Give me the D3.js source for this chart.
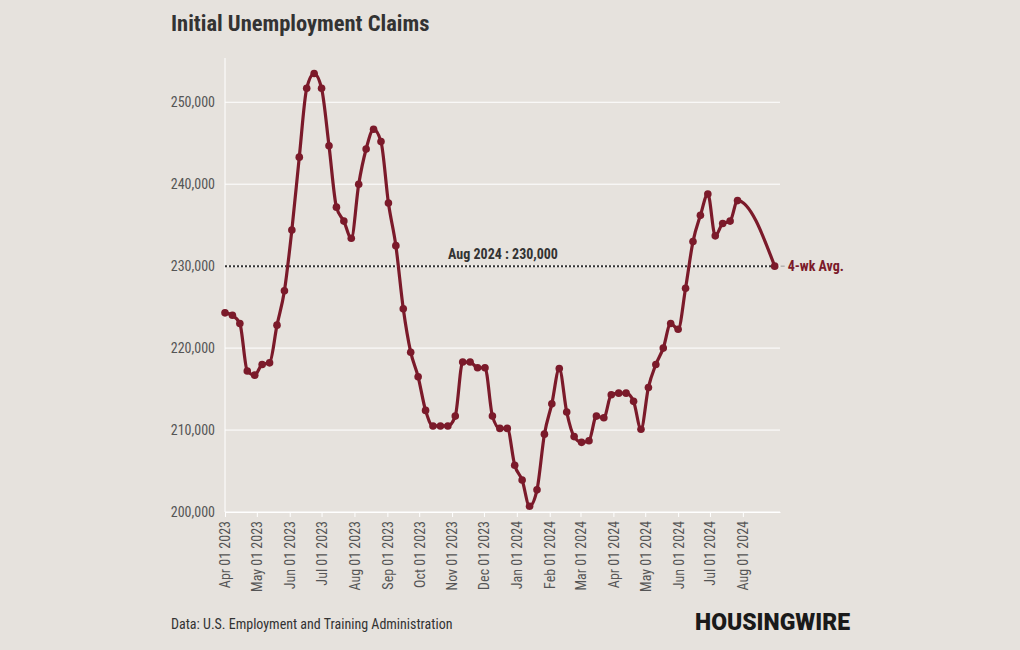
<!DOCTYPE html>
<html>
<head>
<meta charset="utf-8">
<script src="https://cdn.jsdelivr.net/npm/d3@7"></script>
<style>
  html, body { margin: 0; padding: 0; background: #e6e2dd; }
  svg { display: block; }
  text { font-family: "Roboto Condensed", "Liberation Sans Narrow", "Roboto", sans-serif; }
</style>
</head>
<body>
<svg id="chart" width="1020" height="650"></svg>
<script>
// ---- data ----
const startDate = "2023-04-01"; // first weekly observation (Saturday)
const claims = [
  224300, 224000, 223000, 217200, 216700, 218000, 218200, 222800, 227000, 234400,
  243300, 251700, 253500, 251700, 244700, 237200, 235500, 233400, 240000, 244300,
  246700, 245200, 237700, 232500, 224800, 219500, 216500, 212400, 210500, 210500,
  210500, 211700, 218300, 218300, 217600, 217600, 211700, 210200, 210200, 205700,
  203900, 200700, 202700, 209500, 213200, 217500, 212200, 209200, 208500, 208700,
  211700, 211500, 214300, 214500, 214500, 213500, 210100, 215200, 218000, 220000,
  223000, 222300, 227300, 233000, 236200, 238800, 233700, 235200, 235500, 238000
];
const lastDate = "2024-08-31";
const lastValue = 230000;
const yTicks = [200000, 210000, 220000, 230000, 240000, 250000];
const xTickStart = "2023-04-01";
const xTickEnd = "2024-08-01";
const annotationText = "Aug 2024 : 230,000";
const avgLabel = "4-wk Avg.";
const titleText = "Initial Unemployment Claims";
const sourceText = "Data: U.S. Employment and Training Administration";
const logoText = "HOUSINGWIRE";

// ---- build series ----
const parse = d3.timeParse("%Y-%m-%d");
const t0 = parse(startDate);
const series = claims.map((v, i) => ({ date: d3.timeDay.offset(t0, 7 * i), value: v }));
series.push({ date: parse(lastDate), value: lastValue });
const xTicks = d3.timeMonth.range(parse(xTickStart), d3.timeDay.offset(parse(xTickEnd), 1));

const svg = d3.select("#chart");
const W = 1020, H = 650;
svg.append("rect").attr("width", W).attr("height", H).attr("fill", "#e6e2dd");

const x = d3.scaleTime()
  .domain([parse("2023-04-01"), parse("2024-09-05")])
  .range([225, 780]);
const y = d3.scaleLinear()
  .domain([200000, 255400])
  .range([512, 58]);

const lineColor = "#7b1a2a";
const fontStack = '"Roboto Condensed", "Liberation Sans Narrow", Roboto, sans-serif';

// gridlines
svg.append("g").selectAll("line").data(yTicks).join("line")
  .attr("x1", 225).attr("x2", 780)
  .attr("y1", d => y(d)).attr("y2", d => y(d))
  .attr("stroke", "#ffffff").attr("stroke-width", 1);

// vertical y axis line
svg.append("line").attr("x1", 225).attr("x2", 225).attr("y1", 58).attr("y2", 512)
  .attr("stroke", "#ffffff").attr("stroke-width", 1);

// y axis labels
const yAxis = d3.axisLeft(y).tickValues(yTicks).tickFormat(d3.format(",")).tickSize(0).tickPadding(10);
const gy = svg.append("g").attr("transform", "translate(225,0)").call(yAxis);
gy.select(".domain").remove();
gy.selectAll("text").attr("fill", "#555").style("font-size", "14px").style("font-family", fontStack);

// x axis
const xAxis = d3.axisBottom(x)
  .tickValues(xTicks)
  .tickFormat(d3.timeFormat("%b %d %Y"))
  .tickSize(5).tickSizeOuter(0).tickPadding(6);
const gx = svg.append("g").attr("transform", "translate(0,512)").call(xAxis);
gx.select(".domain").attr("stroke", "#ffffff");
gx.selectAll(".tick line").attr("stroke", "#ffffff");
gx.selectAll("text")
  .attr("fill", "#555")
  .style("font-size", "14px")
  .style("font-family", fontStack)
  .attr("text-anchor", "end")
  .attr("transform", "rotate(-90)")
  .attr("x", -9).attr("y", 0).attr("dy", "0.35em");

// reference dotted line
svg.append("line")
  .attr("x1", 225).attr("x2", x(parse(lastDate)))
  .attr("y1", y(lastValue)).attr("y2", y(lastValue))
  .attr("stroke", "#333").attr("stroke-width", 2).attr("stroke-dasharray", "2,2");

svg.append("text")
  .attr("x", 503).attr("y", y(lastValue) - 7)
  .attr("text-anchor", "middle")
  .attr("fill", "#333").style("font-size", "14px").style("font-weight", "bold")
  .text(annotationText);

// line
const line = d3.line().x(d => x(d.date)).y(d => y(d.value)).curve(d3.curveMonotoneX);
svg.append("path").datum(series)
  .attr("d", line).attr("fill", "none")
  .attr("stroke", lineColor).attr("stroke-width", 3.2).attr("stroke-linejoin", "round");

svg.append("g").selectAll("circle").data(series).join("circle")
  .attr("cx", d => x(d.date)).attr("cy", d => y(d.value)).attr("r", 3.8)
  .attr("fill", lineColor);

// 4-wk avg label
const lx = x(parse(lastDate));
svg.append("line").attr("x1", lx + 6).attr("x2", lx + 10)
  .attr("y1", y(lastValue)).attr("y2", y(lastValue))
  .attr("stroke", "#999").attr("stroke-width", 1);
svg.append("text").attr("x", lx + 13).attr("y", y(lastValue) + 5)
  .attr("fill", lineColor).style("font-size", "14px").style("font-weight", "bold")
  .text(avgLabel);

// title
svg.append("text").attr("x", 171).attr("y", 31)
  .attr("fill", "#333").style("font-size", "22.5px").style("font-weight", "bold")
  .text(titleText);

// source
svg.append("text").attr("x", 171).attr("y", 629)
  .attr("fill", "#333").style("font-size", "14px")
  .text(sourceText);

// logo
svg.append("text").attr("x", 695).attr("y", 630)
  .attr("fill", "#1a1a1a").style("font-size", "24px").style("font-weight", "900")
  .style("font-family", "Roboto, sans-serif")
  .attr("textLength", 155).attr("lengthAdjust", "spacingAndGlyphs")
  .text(logoText);
</script>
</body>
</html>
